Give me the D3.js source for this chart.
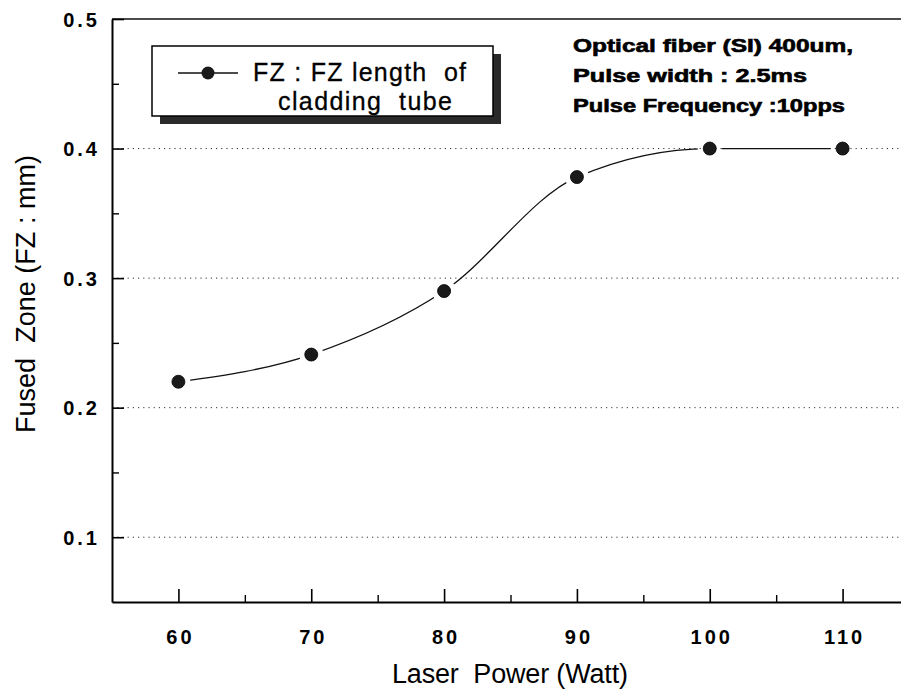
<!DOCTYPE html>
<html>
<head>
<meta charset="utf-8">
<script src="https://cdn.jsdelivr.net/npm/d3@7"></script>
<style>
  body { margin: 0; background: #fff; }
  svg { display: block; }
  text { font-family: "Liberation Sans", Arial, sans-serif; fill: #000; }
</style>
</head>
<body>
<svg id="chart" width="901" height="693"></svg>
<script>
// laser power (Watt) vs fused zone length (mm)
var power = [60, 70, 80, 90, 100, 110];
var fusedZone = [0.22, 0.241, 0.29, 0.378, 0.4, 0.4];

var xTicks = [60, 70, 80, 90, 100, 110];
var xMinor = [65, 75, 85, 95, 105];
var yTicks = [0.1, 0.2, 0.3, 0.4, 0.5];
var yMinor = [0.15, 0.25, 0.35, 0.45];
var gridVals = [0.1, 0.2, 0.3, 0.4];

var notes = ["Optical fiber (SI) 400um,", "Pulse width : 2.5ms", "Pulse Frequency :10pps"];
var noteWidths = [280, 234, 272];
var legendLines = ["FZ : FZ length  of", "cladding  tube"];

var svg = d3.select("#chart");

var plotLeft = 112, plotTop = 19, plotBottom = 602;

var x = d3.scaleLinear().domain([55, 115]).range([plotLeft, 909]);
var y = d3.scaleLinear().domain([0.05, 0.5]).range([plotBottom, plotTop]);

var pts = power.map(function(p, i) { return {x: p, y: fusedZone[i]}; });

// dotted grid
svg.append("g").selectAll("line").data(gridVals).enter().append("line")
    .attr("x1", plotLeft).attr("x2", 901)
    .attr("y1", function(d) { return y(d); })
    .attr("y2", function(d) { return y(d); })
    .attr("stroke", "#333")
    .attr("stroke-width", 1)
    .attr("stroke-dasharray", "1.2,4");

// frame top
svg.append("line")
    .attr("x1", plotLeft).attr("x2", 901)
    .attr("y1", plotTop).attr("y2", plotTop)
    .attr("stroke", "#111").attr("stroke-width", 1.6);

// axes, ticks point inwards
var yAxis = d3.axisLeft(y).tickValues(yTicks).tickSize(-12).tickSizeOuter(0).tickFormat(d3.format(".1f"));
var gy = svg.append("g").attr("transform", "translate(" + plotLeft + ",0)").call(yAxis);
gy.select(".domain").attr("stroke", "#000").attr("stroke-width", 2);
gy.selectAll(".tick line").attr("stroke", "#000").attr("stroke-width", 1.6);
gy.selectAll(".tick text")
    .attr("x", -12)
    .attr("dy", "0.36em")
    .style("font-size", "20px")
    .style("font-weight", "bold")
    .style("letter-spacing", "3px")
    .style("font-family", "'Liberation Sans', Arial, sans-serif");

var yMinorAxis = d3.axisLeft(y).tickValues(yMinor).tickSize(-7).tickSizeOuter(0).tickFormat("");
var gym = svg.append("g").attr("transform", "translate(" + plotLeft + ",0)").call(yMinorAxis);
gym.select(".domain").remove();
gym.selectAll(".tick line").attr("stroke", "#000").attr("stroke-width", 1.4);

var xAxis = d3.axisBottom(x).tickValues(xTicks).tickSize(-13).tickSizeOuter(0);
var gx = svg.append("g").attr("transform", "translate(0," + plotBottom + ")").call(xAxis);
gx.select(".domain").attr("stroke", "#000").attr("stroke-width", 2);
gx.selectAll(".tick line").attr("stroke", "#000").attr("stroke-width", 1.6);
gx.selectAll(".tick text")
    .attr("y", 35)
    .attr("dx", "1.5px")
    .attr("dy", "0.36em")
    .style("font-size", "20px")
    .style("font-weight", "bold")
    .style("letter-spacing", "3px")
    .style("font-family", "'Liberation Sans', Arial, sans-serif");

var xMinorAxis = d3.axisBottom(x).tickValues(xMinor).tickSize(-7).tickSizeOuter(0).tickFormat("");
var gxm = svg.append("g").attr("transform", "translate(0," + plotBottom + ")").call(xMinorAxis);
gxm.select(".domain").remove();
gxm.selectAll(".tick line").attr("stroke", "#000").attr("stroke-width", 1.4);

// line is cut short around each marker
var mask = svg.append("defs").append("mask").attr("id", "gapMask")
    .attr("maskUnits", "userSpaceOnUse")
    .attr("x", 0).attr("y", 0).attr("width", 901).attr("height", 693);
mask.append("rect").attr("width", 901).attr("height", 693).attr("fill", "#fff");
mask.selectAll("circle").data(pts).enter().append("circle")
    .attr("cx", function(d) { return x(d.x); })
    .attr("cy", function(d) { return y(d.y); })
    .attr("r", 12)
    .attr("fill", "#000");

var line = d3.line()
    .x(function(d) { return x(d.x); })
    .y(function(d) { return y(d.y); })
    .curve(d3.curveMonotoneX);

svg.append("path")
    .datum(pts)
    .attr("d", line)
    .attr("fill", "none")
    .attr("stroke", "#111")
    .attr("stroke-width", 1.3)
    .attr("mask", "url(#gapMask)");

svg.append("g").selectAll("circle").data(pts).enter().append("circle")
    .attr("cx", function(d) { return x(d.x); })
    .attr("cy", function(d) { return y(d.y); })
    .attr("r", 6.5)
    .attr("fill", "#1a1a1a")
    .attr("stroke", "#000")
    .attr("stroke-width", 0.8);

// legend box with shadow
var lg = svg.append("g");
lg.append("rect").attr("x", 160).attr("y", 54).attr("width", 341).attr("height", 70).attr("fill", "#2a2a2a");
lg.append("rect").attr("x", 152).attr("y", 46).attr("width", 341).attr("height", 70)
    .attr("fill", "#fff").attr("stroke", "#000").attr("stroke-width", 1.5);
lg.append("line").attr("x1", 178).attr("x2", 238).attr("y1", 73).attr("y2", 73)
    .attr("stroke", "#111").attr("stroke-width", 1.3);
lg.append("circle").attr("cx", 208).attr("cy", 73).attr("r", 6.5).attr("fill", "#1a1a1a");
lg.selectAll("text").data(legendLines).enter().append("text")
    .attr("x", function(d, i) { return i === 0 ? 253 : 278; })
    .attr("y", function(d, i) { return i === 0 ? 81 : 110; })
    .attr("textLength", function(d, i) { return i === 0 ? 213 : 174; })
    .attr("lengthAdjust", "spacing")
    .style("font-size", "25px")
    .style("stroke", "#000")
    .style("stroke-width", 0.3)
    .style("white-space", "pre")
    .text(function(d) { return d; });

// test conditions
svg.append("g").selectAll("text").data(notes).enter().append("text")
    .attr("x", 573)
    .attr("y", function(d, i) { return [52, 82, 112][i]; })
    .attr("textLength", function(d, i) { return noteWidths[i]; })
    .attr("lengthAdjust", "spacingAndGlyphs")
    .style("font-size", "18px")
    .style("font-weight", "bold")
    .style("stroke", "#000")
    .style("stroke-width", 0.6)
    .text(function(d) { return d; });

// axis titles
svg.append("text")
    .attr("x", 510).attr("y", 683)
    .attr("text-anchor", "middle")
    .attr("textLength", 236)
    .style("font-size", "27px")
    .style("white-space", "pre")
    .text("Laser  Power (Watt)");

svg.append("text")
    .attr("transform", "translate(35,294) rotate(-90)")
    .attr("text-anchor", "middle")
    .attr("textLength", 278)
    .style("font-size", "27px")
    .style("white-space", "pre")
    .text("Fused  Zone (FZ : mm)");
</script>
</body>
</html>
